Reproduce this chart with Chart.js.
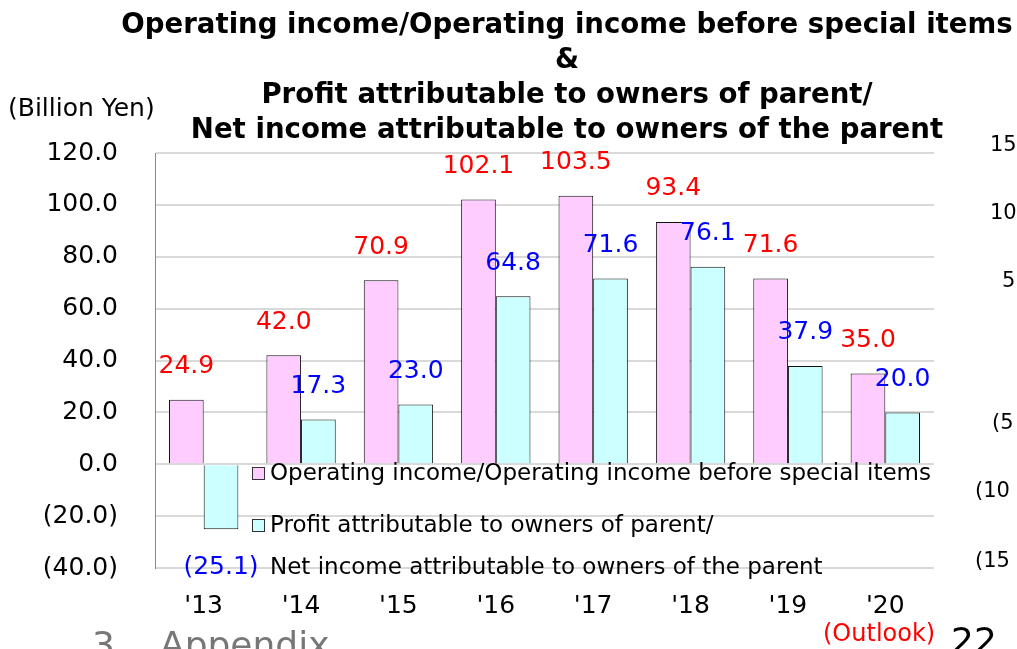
<!DOCTYPE html>
<html>
<head>
<meta charset="utf-8">
<script src="https://cdn.jsdelivr.net/npm/chart.js@4"></script>
<style>
  html, body { margin: 0; padding: 0; background: #fff; overflow: hidden; }
  #wrap { position: relative; width: 1017px; height: 649px; overflow: hidden; }
  canvas { position: absolute; left: 0; top: 0; }
  .txt { position: absolute; white-space: nowrap; font-family: "DejaVu Sans", sans-serif; }
  #title { left: 0; width: 1134px; top: 6px; text-align: center; font-weight: bold; font-size: 27.6px; line-height: 35px; color: #000; }
  #unit { left: 8px; top: 93px; font-size: 25px; }
  #outlook { left: 823px; top: 619px; font-size: 24px; color: #ff0000; }
  #page { left: 951px; top: 620px; font-size: 36px; }
  #sec1 { left: 92px; top: 624px; font-size: 36px; color: #777; }
  #sec2 { left: 160px; top: 624px; font-size: 36px; color: #777; }
  .rt { position: absolute; left: 990px; font-size: 21px; font-family: "DejaVu Sans", sans-serif; }
</style>
</head>
<body>
<div id="wrap">
  <canvas id="grafico" width="1017" height="649"></canvas>
  <div class="txt" id="title">Operating income/Operating income before special items<br>&amp;<br>Profit attributable to owners of parent/<br>Net income attributable to owners of the parent</div>
  <div class="txt" id="unit">(Billion Yen)</div>
  <div class="txt" id="outlook">(Outlook)</div>
  <div class="txt" id="page">22</div>
  <div class="txt" id="sec1">3</div>
  <div class="txt" id="sec2">Appendix</div>
  <div class="rt" style="top:132px">15</div>
  <div class="rt" style="top:200px">10</div>
  <div class="rt" style="top:268px;left:1002px">5</div>
  <div class="rt" style="top:410px;left:992px">(5</div>
  <div class="rt" style="top:478px;left:975px">(10</div>
  <div class="rt" style="top:548px;left:975px">(15</div>
</div>
<script>
// categorias y series
const anios = ["'13", "'14", "'15", "'16", "'17", "'18", "'19", "'20"];
const operativo = [24.9, 42.0, 70.9, 102.1, 103.5, 93.4, 71.6, 35.0];
const neto = [-25.1, 17.3, 23.0, 64.8, 71.6, 76.1, 37.9, 20.0];
const ticksY = [120, 100, 80, 60, 40, 20, 0, -20, -40];

const nombreOperativo = ["Operating income/Operating income before special items"];
const nombreNeto = ["Profit attributable to owners of parent/", "Net income attributable to owners of the parent"];

const fmt = v => v < 0 ? "(" + Math.abs(v).toFixed(1) + ")" : v.toFixed(1);

// etiquetas de valores
const etiquetas = {
  id: "etiquetas",
  afterDatasetsDraw(chart) {
    const ctx = chart.ctx;
    const colores = ["#ff0000", "#0000ff"];
    ctx.save();
    ctx.font = "25px 'DejaVu Sans', sans-serif";
    ctx.textAlign = "center";
    ctx.textBaseline = "middle";
    chart.data.datasets.forEach((ds, i) => {
      chart.getDatasetMeta(i).data.forEach((bar, j) => {
        const v = ds.data[j];
        ctx.fillStyle = colores[i];
        const y = v < 0 ? bar.y + 38 : bar.y - 33;
        ctx.fillText(fmt(v), bar.x, y);
      });
    });
    ctx.restore();
  }
};

// leyenda dentro del area
const leyenda = {
  id: "leyenda",
  afterDraw(chart) {
    const ctx = chart.ctx;
    const a = chart.chartArea;
    const x = a.left + 97;
    const filas = [
      { color: "#ffccff", texto: nombreOperativo, y: a.top + 321 },
      { color: "#ccffff", texto: nombreNeto, y: a.top + 373 }
    ];
    ctx.save();
    ctx.font = "23px 'DejaVu Sans', sans-serif";
    ctx.textBaseline = "middle";
    ctx.textAlign = "left";
    filas.forEach(f => {
      ctx.fillStyle = f.color;
      ctx.fillRect(x, f.y - 7, 13, 13);
      ctx.strokeStyle = "#333";
      ctx.lineWidth = 1;
      ctx.strokeRect(x + 0.5, f.y - 6.5, 12, 12);
      ctx.fillStyle = "#000";
      f.texto.forEach((t, k) => ctx.fillText(t, x + 18, f.y + k * 42));
    });
    ctx.restore();
  }
};

new Chart(document.getElementById("grafico"), {
  type: "bar",
  data: {
    labels: anios,
    datasets: [
      {
        label: nombreOperativo.join(" "),
        data: operativo,
        backgroundColor: "#ffccff",
        borderColor: "#111",
        borderWidth: 1
      },
      {
        label: nombreNeto.join(" "),
        data: neto,
        backgroundColor: "#ccffff",
        borderColor: "#111",
        borderWidth: 1
      }
    ]
  },
  options: {
    responsive: false,
    animation: false,
    layout: { padding: { left: 0, right: 83, top: 153, bottom: 0 } },
    plugins: {
      legend: { display: false },
      tooltip: { enabled: false }
    },
    datasets: { bar: { categoryPercentage: 0.712, barPercentage: 1.0 } },
    scales: {
      x: {
        grid: { display: false, drawTicks: false },
        border: { display: false },
        ticks: {
          color: "#000",
          padding: 23,
          font: { size: 25, family: "'DejaVu Sans', sans-serif" }
        },
        afterFit(s) { s.height = 81; }
      },
      y: {
        min: -40,
        max: 120,
        afterBuildTicks(s) { s.ticks = ticksY.map(v => ({ value: v })); },
        grid: { color: "#d9d9d9", lineWidth: 2, drawTicks: false },
        border: { display: true, color: "#888", width: 1 },
        ticks: {
          color: "#000",
          padding: 37,
          callback: v => fmt(v),
          font: { size: 25, family: "'DejaVu Sans', sans-serif" }
        },
        afterFit(s) { s.width = 155; }
      }
    }
  },
  plugins: [etiquetas, leyenda]
});
</script>
</body>
</html>
